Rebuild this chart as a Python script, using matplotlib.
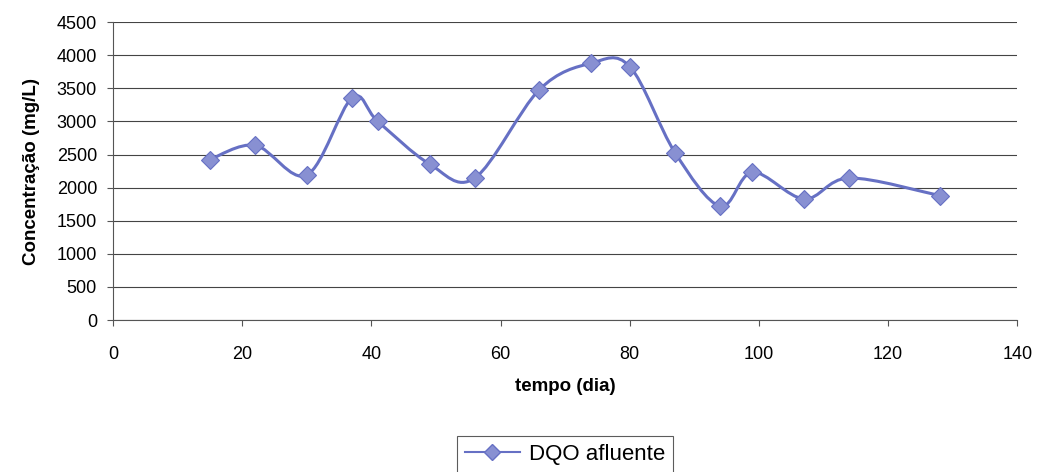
import numpy as np
import matplotlib
matplotlib.use("Agg")
import matplotlib.pyplot as plt
from matplotlib.path import Path
from matplotlib.patches import PathPatch

dias = [15, 22, 30, 37, 41, 49, 56, 66, 74, 80, 87, 94, 99, 107, 114, 128]
dqo = [2425, 2640, 2190, 3355, 3000, 2357, 2145, 3480, 3880, 3830, 2530, 1720, 2232, 1830, 2146, 1880]
x_ticks = [0, 20, 40, 60, 80, 100, 120, 140]
y_ticks = [0, 500, 1000, 1500, 2000, 2500, 3000, 3500, 4000, 4500]

plt.rcParams['font.family'] = ['Liberation Sans', 'DejaVu Sans']

fig = plt.figure(figsize=(10.37, 4.72), dpi=100)
ax = fig.add_axes([0.109, 0.322, 0.872, 0.631])

line_color = '#6670C4'
marker_color = '#8890D2'

# Excel-style smoothed line: cubic Bezier through points (Catmull-Rom control points)
def smooth_path(xs, ys):
    P = list(zip(xs, ys))
    verts = [P[0]]
    codes = [Path.MOVETO]
    n = len(P)
    for i in range(n - 1):
        p0 = P[i - 1] if i > 0 else P[i]
        p1 = P[i]
        p2 = P[i + 1]
        p3 = P[i + 2] if i + 2 < n else P[i + 1]
        c1 = (p1[0] + (p2[0] - p0[0]) / 6, p1[1] + (p2[1] - p0[1]) / 6)
        c2 = (p2[0] - (p3[0] - p1[0]) / 6, p2[1] - (p3[1] - p1[1]) / 6)
        verts += [c1, c2, p2]
        codes += [Path.CURVE4] * 3
    return Path(verts, codes)

patch = PathPatch(smooth_path(dias, dqo), facecolor='none', edgecolor=line_color,
                  linewidth=2.2, zorder=3)
ax.add_patch(patch)
ax.plot(dias, dqo, linestyle='none', marker='D', markersize=9,
        markerfacecolor=marker_color, markeredgecolor=line_color, markeredgewidth=0.8, zorder=4)
# legend proxy
ax.plot([], [], color=line_color, linewidth=1.5, marker='D', markersize=8,
        markerfacecolor=marker_color, markeredgecolor=line_color, label='DQO afluente')

ax.set_xlim(0, 140)
ax.set_ylim(0, 4500)
ax.set_xticks(x_ticks)
ax.set_yticks(y_ticks)
ax.tick_params(axis='both', labelsize=13, direction='out', length=4.5, color='#555555')
ax.tick_params(axis='x', pad=14)
ax.tick_params(axis='y', pad=7)
ax.yaxis.grid(True, color='#444444', linewidth=0.8)
ax.set_axisbelow(True)
for s in ['top', 'right']:
    ax.spines[s].set_visible(False)
ax.spines['left'].set_color('#555555')
ax.spines['bottom'].set_color('#555555')

ax.set_xlabel('tempo (dia)', fontsize=13.5, fontweight='bold', labelpad=11)
ax.set_ylabel('Concentração (mg/L)', fontsize=13.5, fontweight='bold', labelpad=12)

leg = fig.legend(loc='upper center', bbox_to_anchor=(565 / 1037, 1 - 436 / 472), frameon=True,
                 fancybox=False, edgecolor='#333333', fontsize=16, handlelength=2.5,
                 borderpad=0.35, handletextpad=0.4, borderaxespad=0.0)
leg.get_frame().set_linewidth(0.8)

fig.savefig('out.png', dpi=100)
